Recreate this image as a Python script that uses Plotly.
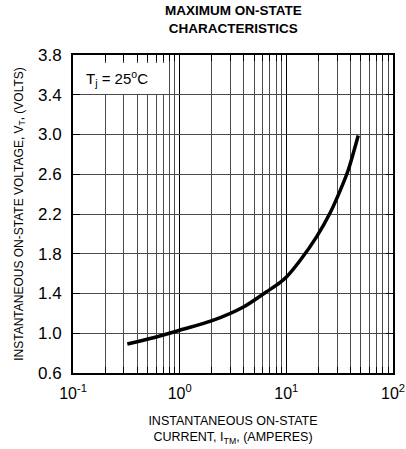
import plotly.graph_objects as go

current_a = [0.323, 0.566, 1.0, 2.01, 4.0, 6.53, 8.7, 10.07, 13.4, 19.2, 25.7, 31.8, 38.0, 47.2]
voltage_v = [0.892, 0.955, 1.03, 1.126, 1.267, 1.418, 1.51, 1.569, 1.73, 1.97, 2.21, 2.43, 2.64, 2.99]

x_tickvals = [0.1, 1, 10, 100]
x_ticktext = ["10<sup>-1</sup>", "10<sup>0</sup>", "10<sup>1</sup>", "10<sup>2</sup>"]
y_tickvals = [0.6, 1.0, 1.4, 1.8, 2.2, 2.6, 3.0, 3.4, 3.8]

FONT = "Liberation Sans, Arial, sans-serif"
GRID = "#4a4a4a"

W, H = 406, 449
ML, MR, MT, MB = 73, 13, 55, 76
PW, PH = W - ML - MR, H - MT - MB  # 320 x 318 plot area


def py(screen_y):
    return (MT + PH - screen_y) / PH


fig = go.Figure()
fig.add_trace(go.Scatter(x=current_a, y=voltage_v, mode="lines",
                         line=dict(color="black", width=3.5, shape="spline", smoothing=0.8),
                         showlegend=False, hoverinfo="skip"))

fig.update_layout(
    width=W, height=H,
    margin=dict(l=ML, r=MR, t=MT, b=MB, autoexpand=False),
    paper_bgcolor="white", plot_bgcolor="white",
    font=dict(family=FONT, color="black"),
)
fig.update_xaxes(
    type="log", range=[-1, 2], automargin=False,
    tickvals=x_tickvals, ticktext=x_ticktext,
    tickfont=dict(size=16), ticks="inside", ticklen=7, tickcolor="black",
    ticklabelstandoff=5, ticklabeloverflow="allow",
    showgrid=True, gridcolor="black", gridwidth=1,
    minor=dict(dtick="D1", showgrid=True, gridcolor=GRID, gridwidth=1,
               ticks="inside", ticklen=6, tickcolor="black"),
    showline=True, linecolor="black", linewidth=2, mirror="ticks",
    title=dict(text="INSTANTANEOUS ON-STATE<br>CURRENT, I<sub>TM</sub>, (AMPERES)",
               font=dict(size=12.5), standoff=15),
    zeroline=False,
)
fig.update_yaxes(
    range=[0.6, 3.8], automargin=False,
    tickvals=y_tickvals, tickformat=".1f",
    tickfont=dict(size=17), ticks="inside", ticklen=7, tickcolor="black",
    ticklabelstandoff=6,
    showgrid=True, gridcolor=GRID, gridwidth=1,
    showline=True, linecolor="black", linewidth=2, mirror="ticks",
    title=dict(text="INSTANTANEOUS ON-STATE VOLTAGE, V<sub>T</sub>, (VOLTS)",
               font=dict(size=12), standoff=12),
    zeroline=False,
)
# white box behind the temperature label (kept below the top ticks)
fig.add_shape(type="rect", xref="paper", yref="paper", x0=0.004, x1=0.29,
              y0=py(94), y1=1 - 8 / PH,
              fillcolor="white", line=dict(width=0), layer="above")
fig.add_annotation(text="T<sub>j</sub> = 25<sup>o</sup>C", xref="paper", yref="paper",
                   x=(84 - ML) / PW, y=py(78), xanchor="left", yanchor="middle",
                   showarrow=False, font=dict(size=15, family=FONT))
# two-line bold title
fig.add_annotation(text="<b>MAXIMUM ON-STATE<br>CHARACTERISTICS</b>", xref="paper", yref="paper",
                   x=0.5, y=py(20), xanchor="center", yanchor="middle",
                   showarrow=False, font=dict(size=13.5, family=FONT))

fig.write_html("out.html", config={"displayModeBar": False},
               post_script="document.body.style.margin='0';document.body.style.overflow='hidden';")
